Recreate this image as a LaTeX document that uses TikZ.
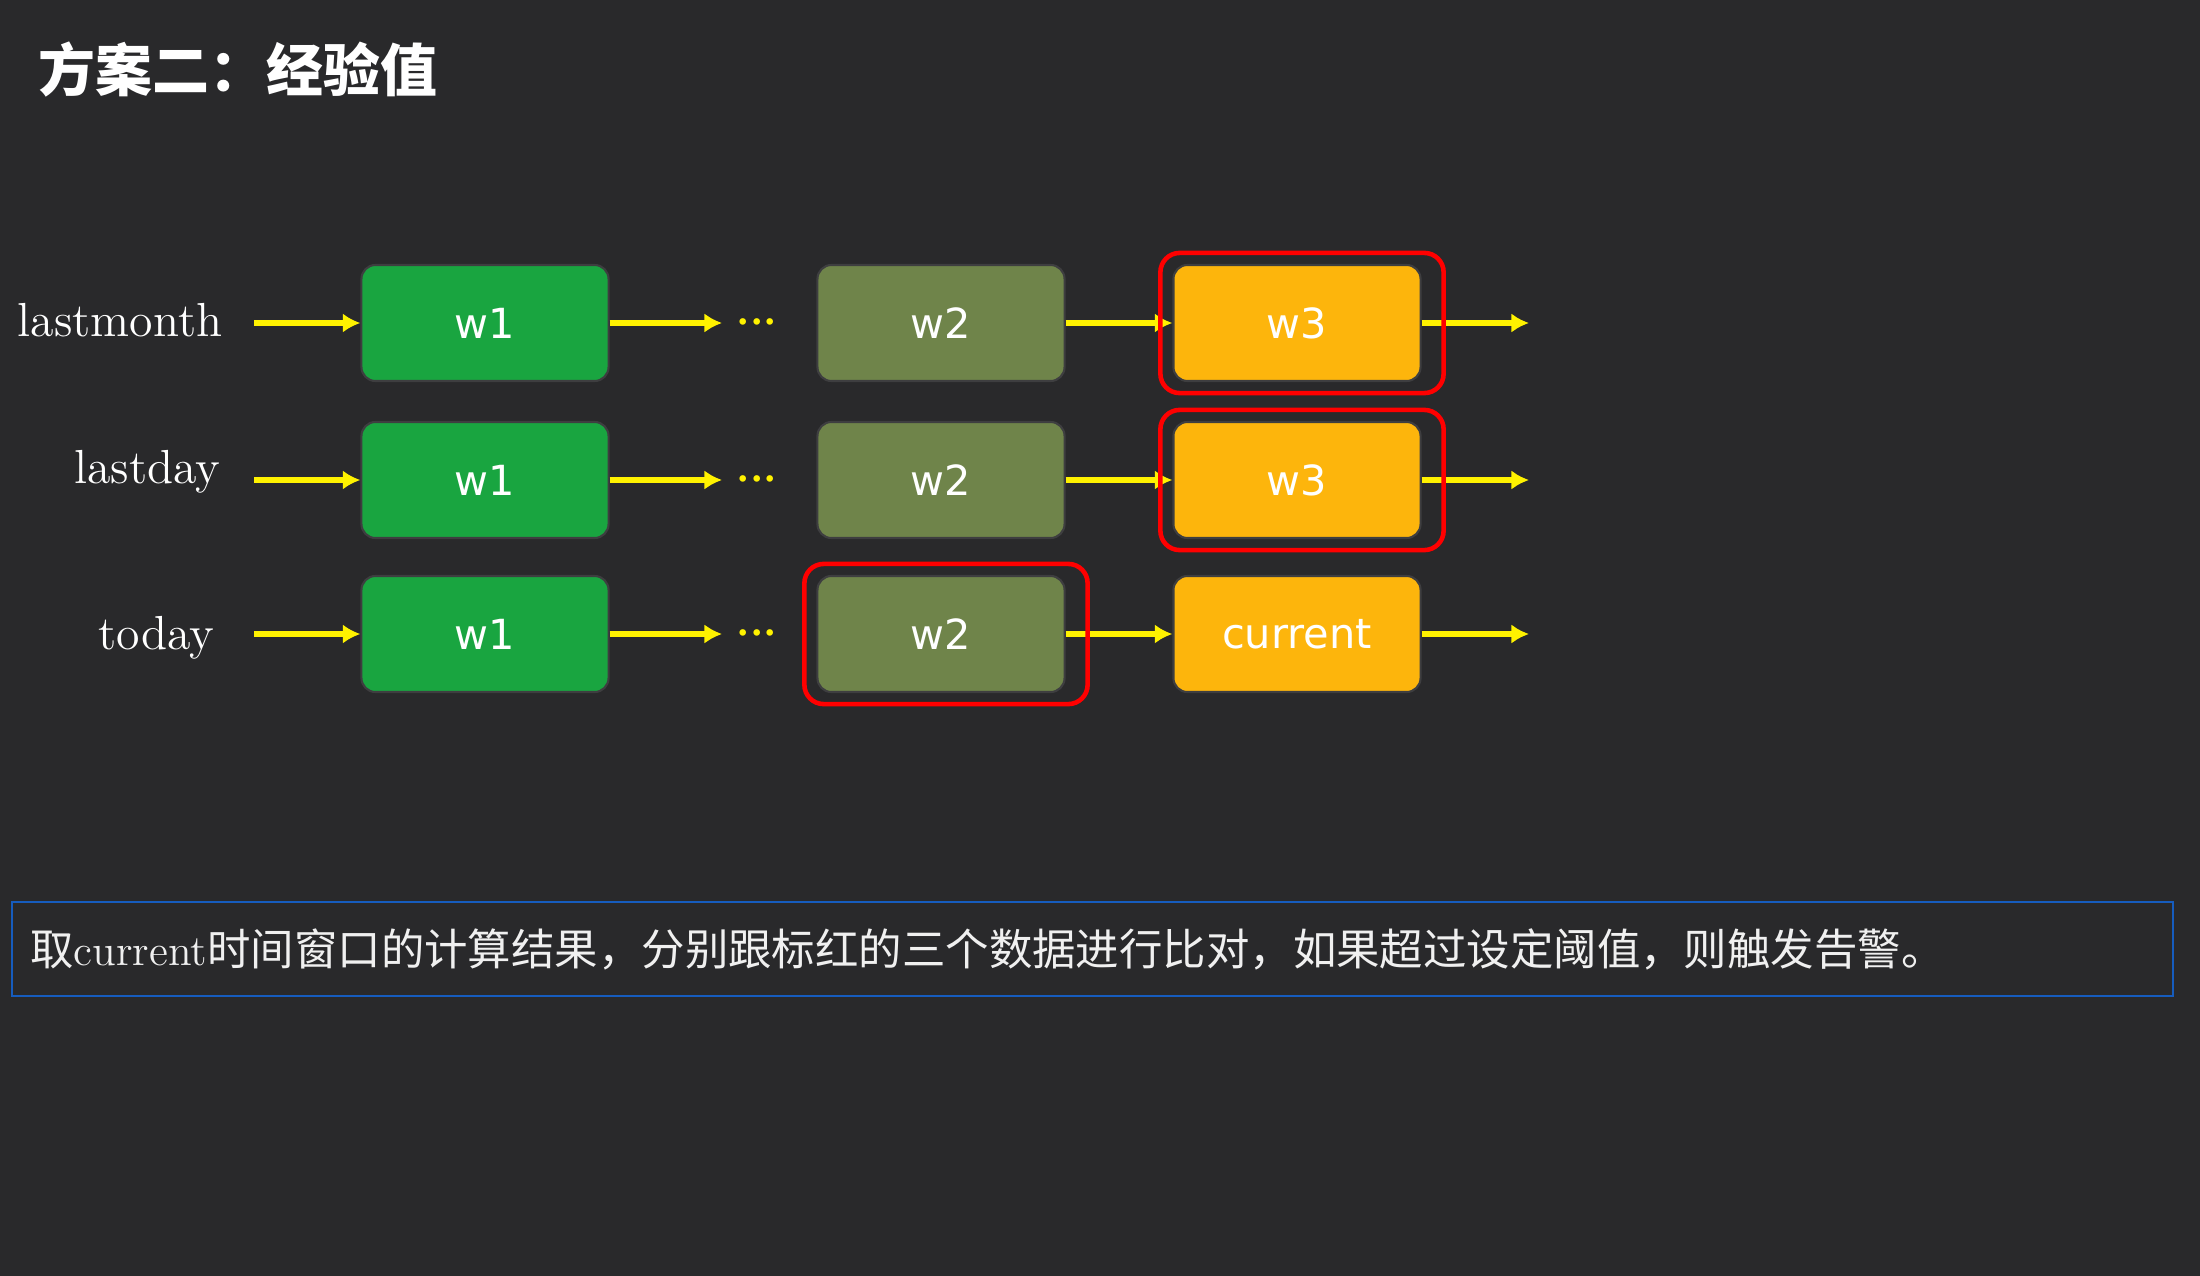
\documentclass[tikz,border=0pt]{standalone}
\usepackage{fontspec}
\newfontfamily\cjk{Noto Sans CJK SC}
\newfontfamily\boxfont{DejaVu Sans}
\usetikzlibrary{arrows.meta}
\definecolor{bg}{RGB}{41,41,43}
\definecolor{wgreen}{RGB}{25,165,64}
\definecolor{wolive}{RGB}{111,132,74}
\definecolor{worange}{RGB}{253,181,12}
\definecolor{wedge}{RGB}{62,62,64}
\definecolor{noteblue}{RGB}{22,92,190}
\begin{document}
\begin{tikzpicture}[x=0.01cm, y=-0.01cm, >={Latex[length=5pt,width=5.5pt]},
	w/.style={draw=wedge, line width=0.6pt, rounded corners=4pt, minimum width=2.47cm, minimum height=1.16cm, text=white, font=\boxfont\fontsize{11.8pt}{13pt}\selectfont},
	lab/.style={anchor=base east, inner sep=0pt, text=white, font=\fontsize{13.6pt}{15pt}\selectfont},
	arr/.style={yellow, line width=1.5pt, ->},
	dd/.style={text=yellow, inner xsep=0.14cm, font=\boldmath\fontsize{12pt}{13pt}\selectfont},
	hl/.style={red, line width=1.3pt, rounded corners=5.5pt}]
	\fill[bg] (0,0) rectangle (2200,1276);
	\useasboundingbox (0,0) rectangle (2200,1276);
	\node[anchor=west, inner sep=0pt, text=white, font=\cjk\bfseries\fontsize{16.2pt}{18pt}\selectfont] (title) at (38,70) {方案二：经验值};
	% rows
	\node[lab] (lm) at (223,337) {lastmonth};
	\node[lab] (ld) at (221,483) {lastday};
	\node[lab] (td) at (215,649) {today};
	\foreach \r/\y in {a/323, b/480, c/634} {
		\coordinate (in\r) at (254,\y);
		\node[w, fill=wgreen] (w1\r) at (485,\y) {w1};
		\node[dd] (d\r) at (757,\y) {${\cdotp}{\cdotp}{\cdotp}$};
		\node[w, fill=wolive] (w2\r) at (941,\y) {w2};
		\coordinate (out\r) at (1529,\y);
		\draw[arr] (in\r) -- (w1\r);
		\draw[arr] (w1\r) -- (d\r);
	}
	\node[w, fill=worange] (w3a) at (1297,323) {w3};
	\node[w, fill=worange] (w3b) at (1297,480) {w3};
	\node[w, fill=worange] (cur) at (1297,634) {current};
	\draw[arr] (w2a) -- (w3a);
	\draw[arr] (w2b) -- (w3b);
	\draw[arr] (w2c) -- (cur);
	\draw[arr] (w3a) -- (outa);
	\draw[arr] (w3b) -- (outb);
	\draw[arr] (cur) -- (outc);
	% marked windows
	\draw[hl] ([shift={(-12,-11)}]w3a.north west) rectangle ([shift={(22,11)}]w3a.south east);
	\draw[hl] ([shift={(-12,-11)}]w3b.north west) rectangle ([shift={(22,11)}]w3b.south east);
	\draw[hl] ([shift={(-12,-11)}]w2c.north west) rectangle ([shift={(22,11)}]w2c.south east);
	\node[draw=noteblue, line width=0.6pt, minimum height=0.94cm, text width=21.23cm, inner xsep=0.18cm, align=left, text=white!94!black, font=\fontsize{12.35pt}{14pt}\selectfont] (note) at (1092.5,949)
		{{\cjk 取}current{\cjk 时间窗口的计算结果，分别跟标红的三个数据进行比对，如果超过设定阈值，则触发告警。}};
\end{tikzpicture}
\end{document}
